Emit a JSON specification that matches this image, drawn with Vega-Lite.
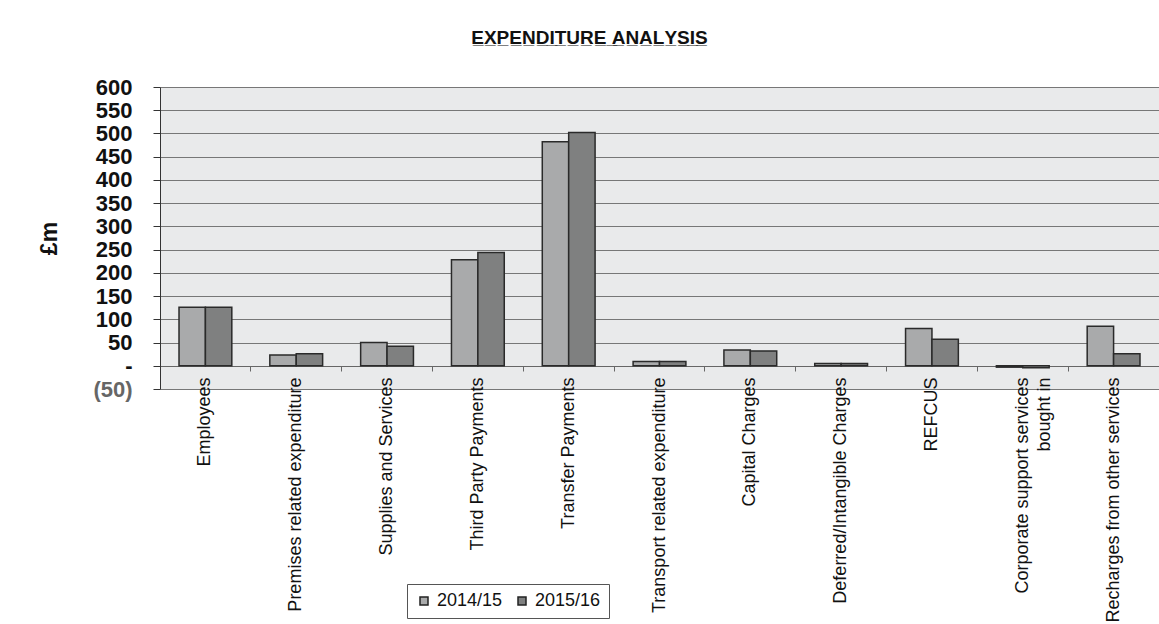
{
  "$schema": "https://vega.github.io/schema/vega-lite/v6.json",
  "autosize": {"type": "none"},
  "padding": {"left": 160, "top": 87, "right": 0, "bottom": 235},
  "width": 999,
  "height": 302,
  "background": "white",
  "title": {
    "text": "E\u0332X\u0332P\u0332E\u0332N\u0332D\u0332I\u0332T\u0332U\u0332R\u0332E\u0332 \u0332A\u0332N\u0332A\u0332L\u0332Y\u0332S\u0332I\u0332S\u0332",
    "font": "Liberation Sans",
    "fontSize": 19,
    "fontWeight": "bold",
    "color": "#111",
    "anchor": "middle",
    "dx": -70,
    "baseline": "alphabetic",
    "offset": 13
  },
  "data": {
    "values": [
      {"category": "Employees", "year": "2014/15", "amount": 126},
      {"category": "Employees", "year": "2015/16", "amount": 126},
      {"category": "Premises related expenditure", "year": "2014/15", "amount": 23},
      {"category": "Premises related expenditure", "year": "2015/16", "amount": 26},
      {"category": "Supplies and Services", "year": "2014/15", "amount": 50},
      {"category": "Supplies and Services", "year": "2015/16", "amount": 42},
      {"category": "Third Party Payments", "year": "2014/15", "amount": 228},
      {"category": "Third Party Payments", "year": "2015/16", "amount": 244},
      {"category": "Transfer Payments", "year": "2014/15", "amount": 482},
      {"category": "Transfer Payments", "year": "2015/16", "amount": 502},
      {"category": "Transport related expenditure", "year": "2014/15", "amount": 9},
      {"category": "Transport related expenditure", "year": "2015/16", "amount": 9},
      {"category": "Capital Charges", "year": "2014/15", "amount": 34},
      {"category": "Capital Charges", "year": "2015/16", "amount": 32},
      {"category": "Deferred/Intangible Charges", "year": "2014/15", "amount": 5},
      {"category": "Deferred/Intangible Charges", "year": "2015/16", "amount": 5},
      {"category": "REFCUS", "year": "2014/15", "amount": 80},
      {"category": "REFCUS", "year": "2015/16", "amount": 57},
      {"category": "Corporate support services bought in", "year": "2014/15", "amount": -3},
      {"category": "Corporate support services bought in", "year": "2015/16", "amount": -4},
      {"category": "Recharges from other services", "year": "2014/15", "amount": 85},
      {"category": "Recharges from other services", "year": "2015/16", "amount": 26}
    ]
  },
  "mark": {"type": "bar", "stroke": "#2a2a2a", "strokeWidth": 1.5},
  "encoding": {
    "x": {
      "field": "category",
      "type": "nominal",
      "sort": null,
      "scale": {"paddingInner": 0, "paddingOuter": 0},
      "axis": {
        "title": null,
        "orient": "bottom",
        "offset": -23,
        "bandPosition": 0,
        "labelAngle": -90,
        "labelFont": "Liberation Sans",
        "labelFontSize": 18,
        "labelColor": "#111",
        "labelPadding": 6,
        "labelLineHeight": 22,
        "labelLimit": 0,
        "labelExpr": "datum.label == 'Corporate support services bought in' ? ['Corporate support services', 'bought in'] : datum.label",
        "domainColor": "#666",
        "tickColor": "#666",
        "tickSize": 5,
        "grid": false
      }
    },
    "xOffset": {
      "field": "year",
      "type": "nominal",
      "scale": {"paddingInner": 0, "paddingOuter": 0.72}
    },
    "y": {
      "field": "amount",
      "type": "quantitative",
      "scale": {"domain": [-50, 600], "nice": false, "zero": false},
      "axis": {
        "title": "£m",
        "titleFont": "Liberation Sans",
        "titleFontSize": 23,
        "titleFontWeight": "bold",
        "titleColor": "#111",
        "titlePadding": 31,
        "values": [-50, 0, 50, 100, 150, 200, 250, 300, 350, 400, 450, 500, 550, 600],
        "labelExpr": "datum.value == 0 ? '-' : (datum.value < 0 ? '(' + abs(datum.value) + ')' : datum.label)",
        "labelFont": "Liberation Sans",
        "labelFontSize": 22,
        "labelFontWeight": "bold",
        "labelColor": {"condition": {"test": "datum.value < 0", "value": "#666"}, "value": "#111"},
        "labelPadding": 21,
        "labelOverlap": false,
        "labelBound": false,
        "labelFlush": false,
        "domainColor": "#333",
        "tickColor": "#333",
        "tickSize": 7,
        "grid": true,
        "gridColor": "#777777",
        "gridWidth": 1
      }
    },
    "color": {
      "field": "year",
      "type": "nominal",
      "scale": {"domain": ["2014/15", "2015/16"], "range": ["#a9aaab", "#7f8080"]},
      "legend": {
        "title": null,
        "orient": "none",
        "direction": "horizontal",
        "legendX": 247,
        "legendY": 497,
        "strokeColor": "#555",
        "padding": 8,
        "symbolType": "square",
        "symbolSize": 64,
        "symbolStrokeColor": "#222",
        "symbolStrokeWidth": 1.5,
        "symbolOpacity": 1,
        "labelFont": "Liberation Sans",
        "labelFontSize": 18,
        "labelColor": "#111",
        "labelOffset": 4,
        "columnPadding": 10
      }
    }
  },
  "config": {
    "view": {"fill": "#e9eaeb", "stroke": null}
  }
}
